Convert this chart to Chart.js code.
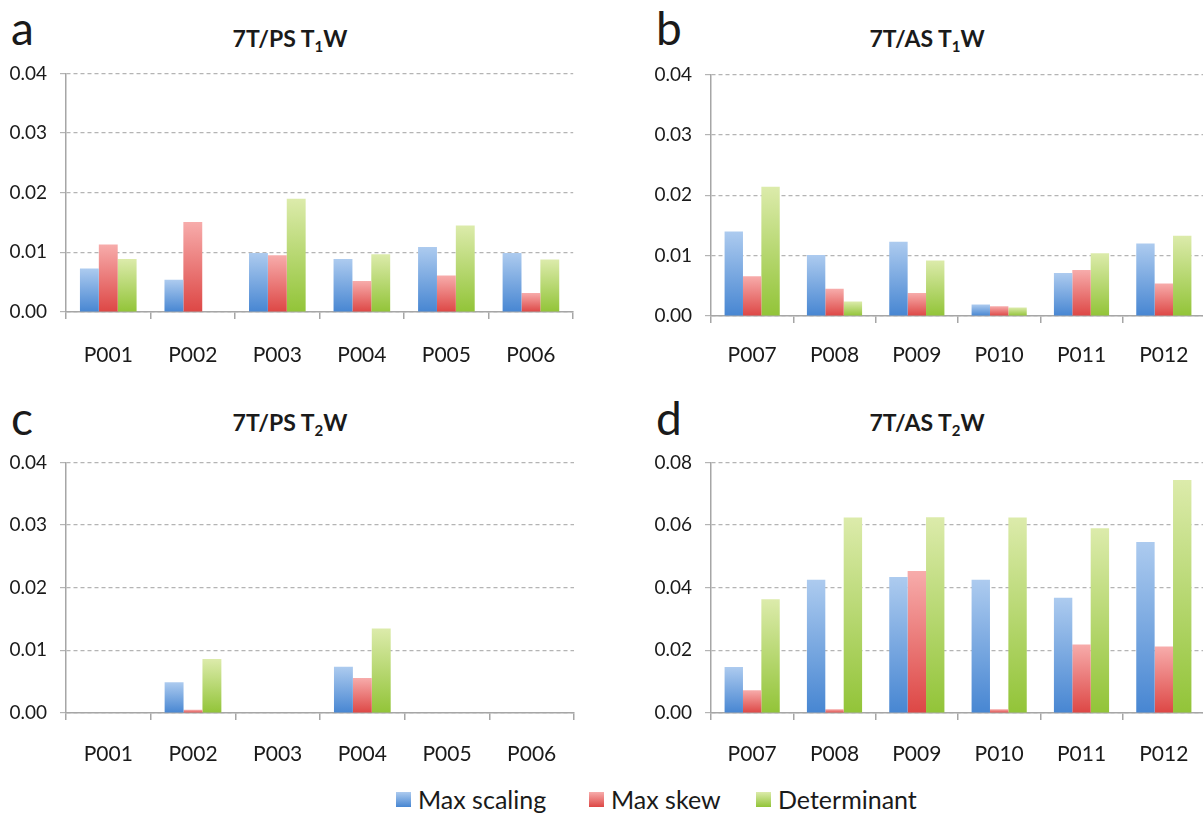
<!DOCTYPE html>
<html>
<head>
<meta charset="utf-8">
<script src="https://cdn.jsdelivr.net/npm/chart.js@4.4.1/dist/chart.umd.min.js"></script>
<style>
    html, body { margin: 0; padding: 0; background: #fff; overflow: hidden; }
    body { width: 1203px; height: 819px; position: relative; font-family: Lato, "Open Sans", sans-serif; color: #1a1a1a; }
    .panel { position: absolute; width: 580px; height: 340px; overflow: hidden; }
    .letter { position: absolute; font-size: 46px; line-height: 46px; }
    .title { position: absolute; width: 300px; text-align: center; font-weight: bold; font-size: 23px; line-height: 26px; }
    .title sub { font-size: 15px; vertical-align: -5px; line-height: 0; }
    #legend { position: absolute; left: 0; top: 784px; width: 1203px; height: 34px; font-size: 25px; }
    #legend .item { position: absolute; top: 0; display: flex; align-items: center; white-space: nowrap; }
    #legend .box { width: 15px; height: 15px; margin-right: 7px; }
</style>
</head>
<body>
<div class="letter" style="left:11px; top:5px;">a</div>
<div class="letter" style="left:656px; top:5px;">b</div>
<div class="letter" style="left:11px; top:395px;">c</div>
<div class="letter" style="left:656px; top:395px;">d</div>

<div class="title" style="left:140px; top:25px;">7T/PS T<sub>1</sub>W</div>
<div class="title" style="left:777px; top:25px;">7T/AS T<sub>1</sub>W</div>
<div class="title" style="left:140px; top:409px;">7T/PS T<sub>2</sub>W</div>
<div class="title" style="left:777px; top:409px;">7T/AS T<sub>2</sub>W</div>

<div class="panel" id="boxA"><canvas id="chartA"></canvas></div>
<div class="panel" id="boxB"><canvas id="chartB"></canvas></div>
<div class="panel" id="boxC"><canvas id="chartC"></canvas></div>
<div class="panel" id="boxD"><canvas id="chartD"></canvas></div>

<div id="legend"></div>

<script>
// Categories
const subjectsPS = ["P001", "P002", "P003", "P004", "P005", "P006"];
const subjectsAS = ["P007", "P008", "P009", "P010", "P011", "P012"];

// Series names
const seriesNames = ["Max scaling", "Max skew", "Determinant"];

// a: 7T/PS T1W
const aScaling = [0.0073, 0.0054, 0.0099, 0.0089, 0.0109, 0.0099];
const aSkew = [0.0113, 0.0151, 0.0095, 0.0052, 0.0061, 0.0032];
const aDeterminant = [0.0089, 0, 0.0190, 0.0097, 0.0145, 0.0088];

// b: 7T/AS T1W
const bScaling = [0.0140, 0.0101, 0.0123, 0.0019, 0.0071, 0.0120];
const bSkew = [0.0066, 0.0045, 0.0038, 0.0016, 0.0076, 0.0054];
const bDeterminant = [0.0214, 0.0024, 0.0092, 0.0014, 0.0104, 0.0133];

// c: 7T/PS T2W
const cScaling = [0, 0.0049, 0, 0.0074, 0, 0];
const cSkew = [0, 0.0005, 0, 0.0056, 0, 0];
const cDeterminant = [0, 0.0086, 0, 0.0135, 0, 0];

// d: 7T/AS T2W
const dScaling = [0.0147, 0.0425, 0.0434, 0.0425, 0.0368, 0.0546];
const dSkew = [0.0073, 0.0012, 0.0453, 0.0012, 0.0219, 0.0212];
const dDeterminant = [0.0363, 0.0624, 0.0625, 0.0624, 0.0590, 0.0744];

// Y axis ranges
const axisT1 = { max: 0.04, step: 0.01 };
const axisT2PS = { max: 0.04, step: 0.01 };
const axisT2AS = { max: 0.08, step: 0.02 };

document.addEventListener("DOMContentLoaded", () => {
    // light top / saturated bottom, like the old Excel bar fill
    const palette = [
        { top: "#adcbef", bottom: "#4786d2" },
        { top: "#f7acab", bottom: "#dd4745" },
        { top: "#dcebab", bottom: "#92c438" }
    ];
    const axisColor = "#a6a6a6";
    const gridColor = "#b4b4b4";
    const textColor = "#1a1a1a";
    const yAxisWidth = 66;
    const topInset = 23; // chart.js keeps this much above the plot for the top tick label
    const boxHeight = 340;

    function barFill(colors) {
        return function (context) {
            let chart = context.chart;
            if (!chart.chartArea || context.type !== "data" || !chart.scales.y) return colors.bottom;
            let yScale = chart.scales.y;
            let yTop = yScale.getPixelForValue(context.raw);
            let yBase = yScale.getPixelForValue(0);
            if (yBase - yTop < 1) return colors.bottom;
            let gradient = chart.ctx.createLinearGradient(0, yTop, 0, yBase);
            gradient.addColorStop(0, colors.top);
            gradient.addColorStop(1, colors.bottom);
            return gradient;
        };
    }

    function makePanel(id, labels, series, range, plot) {
        // plot: where the plot area sits on the page, and gap from axis line to label centre
        let box = document.getElementById("box" + id);
        box.style.left = (plot.left - yAxisWidth) + "px";
        box.style.top = (plot.top - topInset) + "px";
        let xAxisHeight = boxHeight - topInset - plot.height;

        let ctx = document.getElementById("chart" + id).getContext("2d");
        return new Chart(ctx, {
            type: "bar",
            data: {
                labels: labels,
                datasets: series.map((values, i) => ({
                    label: seriesNames[i],
                    data: values,
                    backgroundColor: barFill(palette[i]),
                    borderWidth: 0,
                    barPercentage: 1.0,
                    categoryPercentage: 0.67
                }))
            },
            options: {
                responsive: true,
                maintainAspectRatio: false,
                animation: false,
                layout: {
                    padding: { left: 0, top: 1, right: 580 - yAxisWidth - plot.width, bottom: 0 }
                },
                scales: {
                    x: {
                        ticks: {
                            color: textColor,
                            font: { family: "Lato", size: 21 },
                            padding: plot.labelGap - 7 - 11,
                            maxRotation: 0
                        },
                        grid: {
                            offset: true,
                            drawOnChartArea: false,
                            drawTicks: true,
                            tickLength: 7,
                            color: axisColor,
                            lineWidth: 1.5
                        },
                        border: { color: axisColor, width: 1.5 },
                        afterFit: (scale) => { scale.height = xAxisHeight; }
                    },
                    y: {
                        min: 0,
                        max: range.max,
                        ticks: {
                            stepSize: range.step,
                            color: textColor,
                            font: { family: "Lato", size: 19 },
                            padding: 13,
                            callback: (value) => value.toFixed(2)
                        },
                        grid: {
                            color: gridColor,
                            lineWidth: 1.2,
                            tickLength: 6,
                            drawTicks: true
                        },
                        border: { color: axisColor, width: 1.5, dash: [4, 3] },
                        afterFit: (scale) => { scale.width = yAxisWidth; }
                    }
                },
                plugins: {
                    legend: { display: false },
                    tooltip: { enabled: false },
                    title: { display: false }
                }
            }
        });
    }

    makePanel("A", subjectsPS, [aScaling, aSkew, aDeterminant], axisT1, { left: 66, top: 72, width: 508, height: 240, labelGap: 42 });
    makePanel("B", subjectsAS, [bScaling, bSkew, bDeterminant], axisT1, { left: 711, top: 73, width: 494, height: 243, labelGap: 38 });
    makePanel("C", subjectsPS, [cScaling, cSkew, cDeterminant], axisT2PS, { left: 66, top: 461, width: 508, height: 252, labelGap: 40 });
    makePanel("D", subjectsAS, [dScaling, dSkew, dDeterminant], axisT2AS, { left: 711, top: 461, width: 494, height: 252, labelGap: 40 });

    // Shared legend under the four panels
    const legendLeft = [396, 589, 756];
    let legend = document.getElementById("legend");
    seriesNames.forEach((name, i) => {
        let item = document.createElement("div");
        item.className = "item";
        item.style.left = legendLeft[i] + "px";
        let swatch = document.createElement("span");
        swatch.className = "box";
        swatch.style.background = "linear-gradient(" + palette[i].top + ", " + palette[i].bottom + ")";
        let text = document.createElement("span");
        text.textContent = name;
        item.appendChild(swatch);
        item.appendChild(text);
        legend.appendChild(item);
    });
});
</script>
</body>
</html>
